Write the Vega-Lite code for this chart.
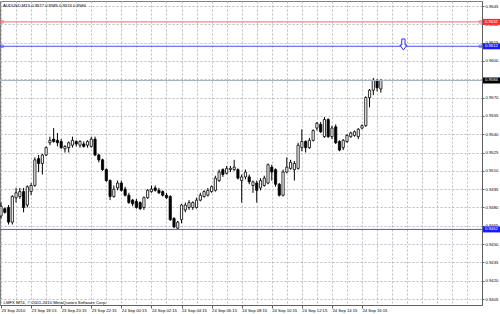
{
  "$schema": "https://vega.github.io/schema/vega-lite/v6.json",
  "width": 482,
  "height": 304,
  "autosize": "none",
  "padding": {"left": 0, "top": 1, "right": 18, "bottom": 9},
  "background": "white",
  "config": {"view": {"stroke": "#808080"}, "font": "Liberation Sans"},
  "title": {"text": "AUDUSD,M15  0.9577 0.9585 0.9574 0.9584", "anchor": "start", "frame": "group", "offset": -7, "dx": 3, "fontSize": 4.2, "fontWeight": "normal", "font": "Liberation Sans", "color": "black"},
  "datasets": {
    "bars": [
      {"i":0,"o":0.9473,"h":0.9484,"l":0.9471,"c":0.9481},
      {"i":1,"o":0.9479,"h":0.9480,"l":0.9475,"c":0.9476},
      {"i":2,"o":0.9480,"h":0.9482,"l":0.9466,"c":0.9468},
      {"i":3,"o":0.9468,"h":0.9490,"l":0.9466,"c":0.9489},
      {"i":4,"o":0.9488,"h":0.9496,"l":0.9484,"c":0.9492},
      {"i":5,"o":0.9489,"h":0.9496,"l":0.9487,"c":0.9493},
      {"i":6,"o":0.9493,"h":0.9496,"l":0.9476,"c":0.9480},
      {"i":7,"o":0.9482,"h":0.9498,"l":0.9480,"c":0.9497},
      {"i":8,"o":0.9493,"h":0.9500,"l":0.9490,"c":0.9498},
      {"i":9,"o":0.9498,"h":0.9521,"l":0.9497,"c":0.9519},
      {"i":10,"o":0.9520,"h":0.9523,"l":0.9509,"c":0.9516},
      {"i":11,"o":0.9516,"h":0.9524,"l":0.9507,"c":0.9523},
      {"i":12,"o":0.9523,"h":0.9530,"l":0.9522,"c":0.9529},
      {"i":13,"o":0.9533,"h":0.9538,"l":0.9531,"c":0.9535},
      {"i":14,"o":0.9536,"h":0.9545,"l":0.9533,"c":0.9534},
      {"i":15,"o":0.9535,"h":0.9541,"l":0.9530,"c":0.9533},
      {"i":16,"o":0.9534,"h":0.9536,"l":0.9528,"c":0.9529},
      {"i":17,"o":0.9528,"h":0.9531,"l":0.9525,"c":0.9530},
      {"i":18,"o":0.9529,"h":0.9534,"l":0.9525,"c":0.9533},
      {"i":19,"o":0.9531,"h":0.9538,"l":0.9529,"c":0.9535},
      {"i":20,"o":0.9534,"h":0.9535,"l":0.9530,"c":0.9532},
      {"i":21,"o":0.9531,"h":0.9535,"l":0.9529,"c":0.9534},
      {"i":22,"o":0.9532,"h":0.9534,"l":0.9529,"c":0.9530},
      {"i":23,"o":0.9531,"h":0.9535,"l":0.9529,"c":0.9534},
      {"i":24,"o":0.9530,"h":0.9538,"l":0.9529,"c":0.9536},
      {"i":25,"o":0.9536,"h":0.9538,"l":0.9522,"c":0.9523},
      {"i":26,"o":0.9523,"h":0.9524,"l":0.9517,"c":0.9519},
      {"i":27,"o":0.9519,"h":0.9520,"l":0.9510,"c":0.9511},
      {"i":28,"o":0.9511,"h":0.9512,"l":0.9501,"c":0.9502},
      {"i":29,"o":0.9502,"h":0.9503,"l":0.9486,"c":0.9489},
      {"i":30,"o":0.9489,"h":0.9498,"l":0.9488,"c":0.9495},
      {"i":31,"o":0.9496,"h":0.9502,"l":0.9494,"c":0.9500},
      {"i":32,"o":0.9500,"h":0.9502,"l":0.9493,"c":0.9494},
      {"i":33,"o":0.9495,"h":0.9497,"l":0.9489,"c":0.9490},
      {"i":34,"o":0.9490,"h":0.9492,"l":0.9483,"c":0.9484},
      {"i":35,"o":0.9486,"h":0.9487,"l":0.9481,"c":0.9483},
      {"i":36,"o":0.9485,"h":0.9487,"l":0.9479,"c":0.9480},
      {"i":37,"o":0.9484,"h":0.9485,"l":0.9478,"c":0.9479},
      {"i":38,"o":0.9480,"h":0.9489,"l":0.9478,"c":0.9488},
      {"i":39,"o":0.9488,"h":0.9495,"l":0.9487,"c":0.9494},
      {"i":40,"o":0.9493,"h":0.9498,"l":0.9492,"c":0.9495},
      {"i":41,"o":0.9496,"h":0.9498,"l":0.9493,"c":0.9494},
      {"i":42,"o":0.9494,"h":0.9496,"l":0.9491,"c":0.9492},
      {"i":43,"o":0.9493,"h":0.9494,"l":0.9489,"c":0.9490},
      {"i":44,"o":0.9490,"h":0.9492,"l":0.9487,"c":0.9488},
      {"i":45,"o":0.9489,"h":0.9490,"l":0.9469,"c":0.9470},
      {"i":46,"o":0.9471,"h":0.9472,"l":0.9463,"c":0.9464},
      {"i":47,"o":0.9463,"h":0.9469,"l":0.9462,"c":0.9468},
      {"i":48,"o":0.9470,"h":0.9483,"l":0.9467,"c":0.9482},
      {"i":49,"o":0.9478,"h":0.9484,"l":0.9476,"c":0.9482},
      {"i":50,"o":0.9480,"h":0.9486,"l":0.9478,"c":0.9484},
      {"i":51,"o":0.9480,"h":0.9485,"l":0.9478,"c":0.9484},
      {"i":52,"o":0.9480,"h":0.9488,"l":0.9479,"c":0.9486},
      {"i":53,"o":0.9486,"h":0.9492,"l":0.9485,"c":0.9490},
      {"i":54,"o":0.9489,"h":0.9494,"l":0.9488,"c":0.9493},
      {"i":55,"o":0.9490,"h":0.9496,"l":0.9489,"c":0.9494},
      {"i":56,"o":0.9493,"h":0.9498,"l":0.9492,"c":0.9497},
      {"i":57,"o":0.9494,"h":0.9506,"l":0.9493,"c":0.9504},
      {"i":58,"o":0.9502,"h":0.9511,"l":0.9501,"c":0.9509},
      {"i":59,"o":0.9511,"h":0.9512,"l":0.9505,"c":0.9507},
      {"i":60,"o":0.9508,"h":0.9514,"l":0.9507,"c":0.9512},
      {"i":61,"o":0.9511,"h":0.9514,"l":0.9509,"c":0.9512},
      {"i":62,"o":0.9511,"h":0.9519,"l":0.9510,"c":0.9513},
      {"i":63,"o":0.9511,"h":0.9512,"l":0.9503,"c":0.9504},
      {"i":64,"o":0.9502,"h":0.9507,"l":0.9484,"c":0.9505},
      {"i":65,"o":0.9505,"h":0.9511,"l":0.9503,"c":0.9509},
      {"i":66,"o":0.9505,"h":0.9507,"l":0.9499,"c":0.9501},
      {"i":67,"o":0.9498,"h":0.9502,"l":0.9492,"c":0.9501},
      {"i":68,"o":0.9500,"h":0.9502,"l":0.9484,"c":0.9494},
      {"i":69,"o":0.9496,"h":0.9504,"l":0.9494,"c":0.9502},
      {"i":70,"o":0.9498,"h":0.9506,"l":0.9497,"c":0.9504},
      {"i":71,"o":0.9500,"h":0.9516,"l":0.9499,"c":0.9515},
      {"i":72,"o":0.9513,"h":0.9515,"l":0.9502,"c":0.9509},
      {"i":73,"o":0.9511,"h":0.9512,"l":0.9497,"c":0.9499},
      {"i":74,"o":0.9499,"h":0.9500,"l":0.9489,"c":0.9490},
      {"i":75,"o":0.9490,"h":0.9511,"l":0.9489,"c":0.9509},
      {"i":76,"o":0.9509,"h":0.9521,"l":0.9508,"c":0.9513},
      {"i":77,"o":0.9512,"h":0.9519,"l":0.9511,"c":0.9517},
      {"i":78,"o":0.9511,"h":0.9518,"l":0.9502,"c":0.9516},
      {"i":79,"o":0.9512,"h":0.9533,"l":0.9511,"c":0.9531},
      {"i":80,"o":0.9529,"h":0.9544,"l":0.9526,"c":0.9534},
      {"i":81,"o":0.9534,"h":0.9535,"l":0.9525,"c":0.9529},
      {"i":82,"o":0.9529,"h":0.9537,"l":0.9528,"c":0.9535},
      {"i":83,"o":0.9535,"h":0.9544,"l":0.9534,"c":0.9543},
      {"i":84,"o":0.9545,"h":0.9550,"l":0.9543,"c":0.9549},
      {"i":85,"o":0.9548,"h":0.9550,"l":0.9541,"c":0.9542},
      {"i":86,"o":0.9538,"h":0.9554,"l":0.9537,"c":0.9552},
      {"i":87,"o":0.9552,"h":0.9553,"l":0.9537,"c":0.9538},
      {"i":88,"o":0.9538,"h":0.9547,"l":0.9536,"c":0.9545},
      {"i":89,"o":0.9546,"h":0.9548,"l":0.9532,"c":0.9533},
      {"i":90,"o":0.9534,"h":0.9535,"l":0.9526,"c":0.9527},
      {"i":91,"o":0.9529,"h":0.9536,"l":0.9527,"c":0.9535},
      {"i":92,"o":0.9534,"h":0.9540,"l":0.9533,"c":0.9539},
      {"i":93,"o":0.9538,"h":0.9542,"l":0.9537,"c":0.9541},
      {"i":94,"o":0.9539,"h":0.9543,"l":0.9538,"c":0.9542},
      {"i":95,"o":0.9538,"h":0.9545,"l":0.9536,"c":0.9544},
      {"i":96,"o":0.9545,"h":0.9548,"l":0.9544,"c":0.9547},
      {"i":97,"o":0.9547,"h":0.9571,"l":0.9546,"c":0.9570},
      {"i":98,"o":0.9570,"h":0.9577,"l":0.9562,"c":0.9576},
      {"i":99,"o":0.9576,"h":0.9586,"l":0.9572,"c":0.9584},
      {"i":100,"o":0.9584,"h":0.9585,"l":0.9575,"c":0.9578},
      {"i":101,"o":0.9577,"h":0.9585,"l":0.9574,"c":0.9584}
    ],
    "lines": [
      {"level": "upper", "price": 0.9632},
      {"level": "entry", "price": 0.9612},
      {"level": "bid", "price": 0.9584},
      {"level": "lower", "price": 0.9462}
    ],
    "arrow": [{"i": 107, "price": 0.96135}]
  },
  "layer": [
    {
      "data": {"name": "bars"},
      "mark": {"type": "rule", "color": "black", "strokeWidth": 1},
      "encoding": {
        "x": {
          "field": "i", "type": "quantitative",
          "scale": {"domain": [-0.27, 127.9], "nice": false, "zero": false, "padding": 0},
          "axis": {
            "values": [0,4,8,12,16,20,24,28,32,36,40,44,48,52,56,60,64,68,72,76,80,84,88,92,96,100,104,108,112,116,120,124],
            "tickCount": 500,
            "grid": true, "gridColor": "#b9bcc4", "gridDash": [2, 2], "gridWidth": 1,
            "domainColor": "#606060", "tickColor": "#606060", "tickSize": 3,
            "tickOpacity": {"condition": {"test": "datum.value % 8 == 0 && datum.value <= 96", "value": 1}, "value": 0},
            "labelExpr": "datum.value == 0 ? '23 Sep 2010' : ((datum.value % 8 == 0 && datum.value <= 96) ? utcFormat(utc(2010, 8, 23, 16, 15) + datum.value * 900000, '%d %b %H:%M') : '')",
            "labelAlign": "left", "labelBaseline": "top", "labelPadding": 0, "labelFontSize": 4.2,
            "labelColor": "black", "labelFont": "Liberation Sans", "labelOverlap": false, "labelFlush": false,
            "title": "LMFX MT4, © 2001-2010 MetaQuotes Software Corp.",
            "titleX": 3, "titleY": -1.5, "titleAlign": "left", "titleBaseline": "alphabetic",
            "titleFontSize": 4.3, "titleFontWeight": "normal", "titleColor": "black", "titleFont": "Liberation Sans"
          }
        },
        "y": {
          "field": "l", "type": "quantitative",
          "scale": {"domain": [0.94001, 0.96491], "nice": false, "zero": false, "padding": 0},
          "axis": {
            "orient": "right",
            "values": [0.9405, 0.942, 0.9435, 0.945, 0.9465, 0.948, 0.9495, 0.951, 0.9525, 0.954, 0.9555, 0.957, 0.9585, 0.96, 0.9615, 0.963, 0.9645],
            "tickCount": 500,
            "format": ".4f",
            "grid": true, "gridColor": "#b9bcc4", "gridDash": [2, 2], "gridWidth": 1,
            "domainColor": "#606060", "tickColor": "#606060", "tickSize": 2,
            "labelAlign": "left", "labelBaseline": "middle", "labelPadding": 1, "labelFontSize": 4.2,
            "labelOpacity": {"condition": {"test": "abs(datum.value - 0.9585) < 0.00001", "value": 0}, "value": 1},
            "labelColor": "black", "labelFont": "Liberation Sans", "labelOverlap": false, "labelFlush": false,
            "title": null
          }
        },
        "y2": {"field": "h"}
      }
    },
    {
      "data": {"name": "bars"},
      "mark": {"type": "bar", "width": 2.2, "stroke": "black", "strokeWidth": 0.8},
      "encoding": {
        "x": {"field": "i", "type": "quantitative"},
        "y": {"field": "o", "type": "quantitative"},
        "y2": {"field": "c"},
        "fill": {"condition": {"test": "datum.c >= datum.o", "value": "white"}, "value": "black"}
      }
    },
    {
      "data": {"name": "lines"},
      "mark": {"type": "rule", "strokeWidth": 1},
      "encoding": {
        "y": {"field": "price", "type": "quantitative"},
        "color": {"field": "level", "type": "nominal", "scale": {"domain": ["upper", "entry", "bid", "lower"], "range": ["#f06a6a", "#5050f0", "#a9b0c2", "#5050f0"]}, "legend": null}
      }
    },
    {
      "data": {"name": "lines"},
      "transform": [{"filter": "datum.level == 'upper' || datum.level == 'entry'"}],
      "mark": {"type": "point", "shape": "square", "size": 7, "filled": false, "strokeWidth": 1},
      "encoding": {
        "x": {"datum": 0.26},
        "y": {"field": "price", "type": "quantitative"},
        "color": {"field": "level", "type": "nominal", "legend": null}
      }
    },
    {
      "data": {"name": "lines"},
      "transform": [{"filter": "datum.level == 'upper' || datum.level == 'entry'"}],
      "mark": {"type": "point", "shape": "square", "size": 7, "filled": false, "strokeWidth": 1},
      "encoding": {
        "x": {"datum": 127.5},
        "y": {"field": "price", "type": "quantitative"},
        "color": {"field": "level", "type": "nominal", "legend": null}
      }
    },
    {
      "data": {"name": "lines"},
      "mark": {"type": "rect", "xOffset": 1, "x2Offset": 18, "yOffset": -3, "y2Offset": 3},
      "encoding": {
        "x": {"datum": 127.9},
        "x2": {"datum": 127.9},
        "y": {"field": "price", "type": "quantitative"},
        "y2": {"field": "price"},
        "fill": {"field": "level", "type": "nominal", "scale": {"domain": ["upper", "entry", "bid", "lower"], "range": ["#ff2a2a", "#1a1aff", "#000000", "#1a1aff"]}, "legend": null}
      }
    },
    {
      "data": {"name": "lines"},
      "mark": {"type": "text", "align": "left", "baseline": "middle", "dx": 3, "fontSize": 4.2, "font": "Liberation Sans", "fill": "white"},
      "encoding": {
        "x": {"datum": 127.9},
        "y": {"field": "price", "type": "quantitative"},
        "text": {"field": "price", "type": "quantitative", "format": ".4f"}
      }
    },
    {
      "data": {"name": "arrow"},
      "mark": {"type": "point", "shape": "M-0.3,-1L0.3,-1L0.3,0.1L0.65,0.1L0,1L-0.65,0.1L-0.3,0.1Z", "size": 121, "filled": true, "fill": "white", "stroke": "#2d2dff", "strokeWidth": 1, "opacity": 1},
      "encoding": {
        "x": {"field": "i", "type": "quantitative"},
        "y": {"field": "price", "type": "quantitative"}
      }
    }
  ]
}
